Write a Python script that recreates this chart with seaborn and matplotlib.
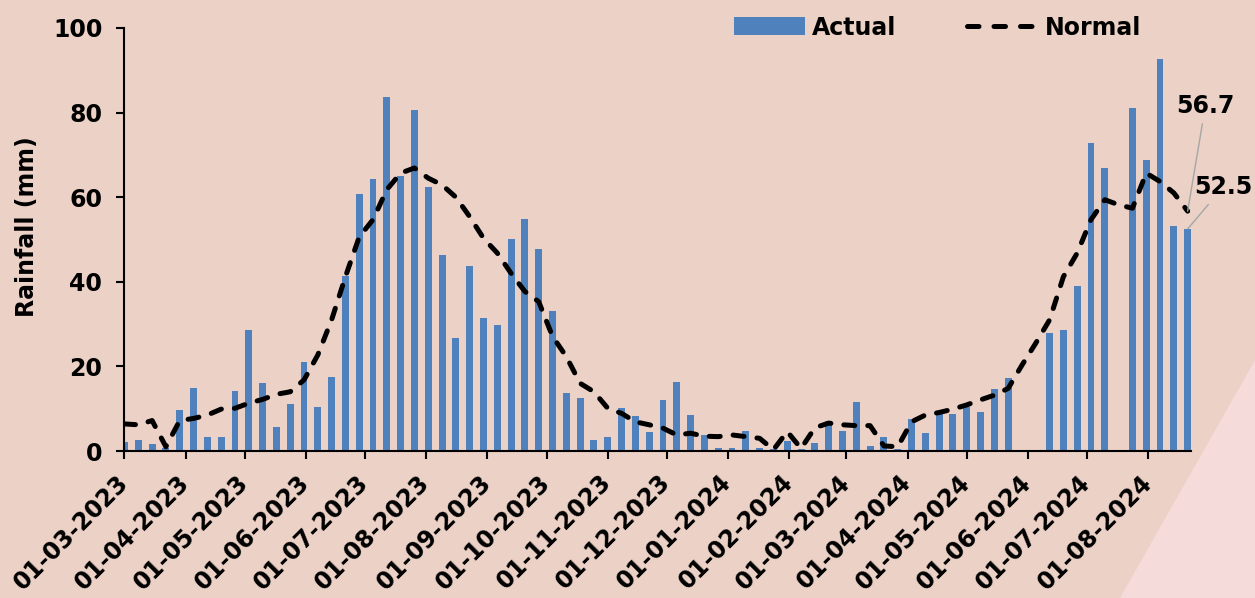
import numpy as np
import pandas as pd
import seaborn as sns
import matplotlib.pyplot as plt
from matplotlib.patches import Patch, Polygon
from matplotlib.lines import Line2D

# weekly rainfall, starting 01-03-2023 (NaN = no observation)
start_date = "2023-03-01"
actual = [2.2, 2.6, 1.7, 0.8, 9.7, 14.8, 3.4, 3.4, 14.2, 28.6,
          16.0, 5.6, 11.1, 21.1, 10.5, 17.4, 41.4, 60.7, 64.3, 83.7,
          65.0, 80.7, 62.3, 46.4, 26.7, 43.8, 31.4, 29.7, 50.2, 54.9,
          47.7, 33.2, 13.8, 12.5, 2.6, 3.2, 10.1, 8.3, 4.6, 12.1,
          16.2, 8.5, 3.8, 0.7, 0.8, 4.8, 0.6, 0.5, 2.3, 0.5,
          2.0, 7.0, 4.8, 11.7, 1.2, 3.2, 0.5, 7.5, 4.2, 9.5,
          8.7, 10.3, 9.3, 14.6, 17.2, np.nan, np.nan, 27.8, 28.5, 38.9,
          72.8, 66.9, np.nan, 81.1, 68.8, 92.7, 53.3, 52.5]
normal = [6.4, 6.2, 7.2, 1.0, 7.2, 7.7, 8.5, 9.9, 10.1, 11.3,
          12.2, 13.4, 14.0, 16.8, 22.7, 31.0, 41.2, 50.6, 54.7, 61.8,
          65.7, 66.9, 64.5, 62.9, 60.0, 55.4, 50.3, 46.8, 42.0, 37.7,
          35.3, 27.1, 22.3, 16.0, 14.0, 10.1, 8.9, 6.9, 6.2, 5.4,
          3.8, 4.2, 3.5, 3.4, 3.8, 3.4, 3.0, 0.3, 4.6, 0.6,
          5.5, 6.6, 6.2, 6.0, 6.0, 1.2, 1.0, 6.9, 8.5, 9.1,
          9.9, 10.9, 12.1, 13.2, 14.8, 20.3, 25.5, 31.0, 41.2, 46.8,
          54.7, 59.4, 58.2, 57.4, 65.7, 63.7, 61.0, 56.7]
tick_months = pd.date_range("2023-03-01", "2024-08-01", freq="MS")

bg = "#EBD1C6"
blue = "#4F81BD"
fs = 17

start = pd.Timestamp(start_date)
dates = pd.date_range(start, periods=len(actual), freq="7D")
df = pd.DataFrame({"day": (dates - start).days, "Actual": actual, "Normal": normal})

sns.set_style("ticks")
plt.rcParams["font.family"] = ["DejaVu Sans"]
plt.rcParams["font.weight"] = "bold"
for key in ["text.color", "axes.labelcolor", "xtick.color", "ytick.color", "axes.edgecolor"]:
    plt.rcParams[key] = "black"

fig = plt.figure(figsize=(12.55, 5.98), dpi=100, facecolor=bg)
fig.patches.append(Polygon([(1120 / 1255, 0), (1, 0), (1, 0.398)], closed=True,
                           transform=fig.transFigure, facecolor="#F5DBD9",
                           edgecolor="none", zorder=-1))
ax = fig.add_axes([0.0992, 0.2458, 0.8495, 0.7074])
ax.set_facecolor("none")

sns.barplot(data=df.dropna(subset=["Actual"]), x="day", y="Actual", native_scale=True,
            color=blue, saturation=1, width=0.5, errorbar=None, linewidth=0,
            edgecolor=blue, ax=ax, zorder=2)
sns.lineplot(data=df, x="day", y="Normal", color="black", lw=3.6, ax=ax, zorder=3)
line = ax.lines[-1]
line.set_dashes([2.2, 2.6])
line.set_dash_capstyle("round")

ax.set_xlim(0, 540.5)
ax.set_ylim(0, 100)
ax.set_yticks(range(0, 101, 20))
ax.set_xticks((tick_months - start).days)
ax.set_xticklabels([d.strftime("%d-%m-%Y") for d in tick_months], rotation=45,
                   ha="right", va="center", rotation_mode="anchor")
ax.tick_params(axis="both", labelsize=fs, length=6, width=1.5, color="black",
               labelcolor="black")
ax.tick_params(axis="y", pad=10)
ax.tick_params(axis="x", pad=14)
for lab in ax.get_xticklabels() + ax.get_yticklabels():
    lab.set_fontweight("bold")

sns.despine(ax=ax)
ax.spines["left"].set_linewidth(1.5)
ax.spines["bottom"].set_linewidth(1.5)
ax.set_xlabel("")
ax.set_ylabel("Rainfall (mm)", fontsize=fs, fontweight="bold")
ax.yaxis.set_label_coords(-0.080, 0.53)

# end-of-series labels
last = df["day"].iloc[-1]
ax.annotate("56.7", xy=(last, normal[-1]), xytext=(548, 81.6), ha="center", va="center",
            fontsize=fs, fontweight="bold", annotation_clip=False,
            arrowprops=dict(arrowstyle="-", color="#A6A6A6", lw=1, shrinkA=2, shrinkB=0))
ax.annotate("52.5", xy=(last, actual[-1]), xytext=(557, 62.4), ha="center", va="center",
            fontsize=fs, fontweight="bold", annotation_clip=False,
            arrowprops=dict(arrowstyle="-", color="#A6A6A6", lw=1, shrinkA=2, shrinkB=0))

handles = [Patch(facecolor=blue, edgecolor="none"),
           Line2D([], [], color="black", lw=3.6, dashes=[2.3, 3.0], dash_capstyle="round")]
fig.legend(handles, ["Actual", "Normal"], loc="center left", bbox_to_anchor=(0.585, 0.954),
           ncol=2, frameon=False, fontsize=fs, handlelength=3.0, handleheight=0.8,
           handletextpad=0.3, columnspacing=3.0, borderpad=0, borderaxespad=0)

fig.savefig("out.png", dpi=100, facecolor=bg)
